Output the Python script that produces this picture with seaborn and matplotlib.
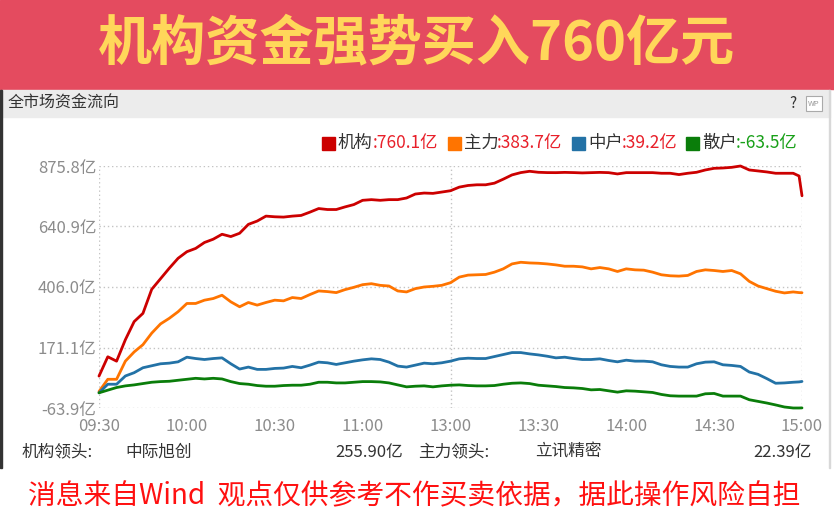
import numpy as np
import pandas as pd
import matplotlib
matplotlib.use("Agg")
import matplotlib.pyplot as plt
from matplotlib.patches import Rectangle
import seaborn as sns

# trading minutes after 09:30 (lunch break removed), sampled every 3 minutes
minutes = list(range(0, 240, 3)) + [239, 240]

jigou = [60.0, 135.0, 118.0, 201.2, 271.6, 303.6, 397.0, 438.0, 479.0, 517.4,
         543.0, 555.8, 578.8, 591.6, 610.8, 601.8, 614.6, 649.2, 662.0, 681.2,
         678.6, 677.4, 681.2, 683.8, 696.6, 710.6, 706.8, 706.8, 717.0, 726.0,
         742.6, 745.2, 742.6, 745.2, 745.2, 751.6, 767.0, 770.8, 769.5, 774.6,
         779.8, 793.8, 800.2, 802.8, 802.8, 809.2, 824.6, 841.2, 850.2, 855.3,
         851.4, 850.2, 850.0, 851.0, 850.2, 849.0, 850.0, 851.0, 850.0, 845.0,
         850.0, 850.0, 850.0, 850.0, 847.6, 847.6, 842.5, 847.6, 851.4, 860.4,
         866.8, 868.1, 870.6, 875.8, 860.4, 856.6, 852.7, 847.6, 847.6, 847.6,
         837.0, 760.1]
zhuli = [0.0, 47.6, 47.6, 118.0, 153.8, 182.0, 226.8, 262.6, 284.4, 310.0,
         342.0, 342.0, 354.8, 361.2, 374.0, 348.4, 329.2, 345.8, 335.6, 345.8,
         354.8, 352.2, 365.0, 361.2, 376.6, 390.6, 388.1, 384.2, 395.8, 404.7,
         415.0, 418.8, 412.4, 409.8, 390.6, 386.8, 399.6, 406.0, 408.6, 412.4,
         422.6, 444.4, 452.1, 453.4, 454.6, 463.6, 476.4, 495.6, 502.0, 499.4,
         498.2, 495.6, 491.8, 486.6, 486.6, 484.1, 476.4, 481.5, 476.4, 466.2,
         476.4, 472.6, 471.3, 463.6, 453.4, 449.5, 448.2, 450.8, 466.2, 472.6,
         470.0, 466.2, 470.0, 457.2, 427.8, 409.8, 399.6, 389.4, 382.9, 386.8,
         384.2, 383.7]
zhonghu = [-5.0, 28.4, 28.4, 60.4, 73.2, 92.4, 100.1, 107.8, 110.3, 115.4,
           133.4, 128.2, 124.4, 128.2, 130.8, 107.8, 87.3, 95.0, 86.0, 86.0,
           89.8, 91.1, 97.5, 92.4, 102.6, 114.2, 111.6, 105.2, 111.6, 118.0,
           123.1, 127.0, 124.4, 114.2, 98.8, 95.0, 102.6, 110.3, 107.8, 111.6,
           118.0, 127.0, 129.5, 128.2, 128.2, 135.9, 143.6, 151.3, 151.3, 146.2,
           142.3, 137.2, 130.8, 133.4, 128.2, 124.4, 124.4, 127.0, 120.6, 115.4,
           121.8, 118.0, 118.0, 115.4, 103.9, 97.5, 95.0, 95.0, 107.8, 114.2,
           115.4, 103.9, 101.4, 97.5, 75.8, 66.8, 50.2, 32.2, 33.5, 36.1,
           37.4, 39.2]
sanhu = [-5.0, 5.4, 15.6, 22.0, 25.8, 31.0, 36.1, 38.6, 39.9, 43.8,
         47.6, 51.4, 48.9, 51.4, 48.9, 38.6, 31.0, 28.4, 23.3, 20.7,
         20.7, 23.3, 24.6, 24.6, 28.4, 36.1, 36.1, 33.5, 33.5, 36.1,
         38.6, 38.6, 37.4, 33.5, 25.8, 18.2, 20.7, 22.0, 18.2, 22.0,
         24.6, 25.8, 23.3, 22.0, 22.0, 23.3, 28.4, 32.2, 33.5, 31.0,
         24.6, 22.0, 19.4, 15.6, 14.3, 11.8, 6.6, 7.9, 2.8, -2.3,
         2.8, 1.5, -1.0, -3.6, -11.3, -16.4, -17.7, -17.7, -17.7, -8.7,
         -7.4, -17.7, -17.7, -17.7, -31.8, -38.2, -44.6, -52.0, -60.0, -63.9,
         -63.9, -63.5]

series_names = ["机构", "主力", "中户", "散户"]
series_colors = ["#CC0000", "#FF7400", "#2372A6", "#0A7D0A"]
final_labels = [":760.1亿", ":383.7亿", ":39.2亿", ":-63.5亿"]
value_colors = ["#E8202A", "#E8202A", "#E8202A", "#18A018"]

ytick_vals = [-63.9, 171.0, 406.0, 640.9, 875.8]
ytick_labels = ["-63.9亿", "171.1亿", "406.0亿", "640.9亿", "875.8亿"]
xtick_vals = [0, 30, 60, 90, 120, 150, 180, 210, 240]
xtick_labels = ["09:30", "10:00", "10:30", "11:00", "13:00", "13:30", "14:00", "14:30", "15:00"]

df = pd.DataFrame({
    "minute": minutes * 4,
    "value": jigou + zhuli + zhonghu + sanhu,
    "series": sum([[n] * len(minutes) for n in series_names], []),
})

sns.set_style("white")
plt.rcParams["font.family"] = ["Noto Sans CJK SC", "DejaVu Sans"]

W, H = 834, 522
fig = plt.figure(figsize=(W / 100, H / 100), dpi=100)

def fx(x):
    return x / W

def fy(y):
    return 1 - y / H

def box(x0, y0, x1, y1, **kw):
    # rectangle given in picture pixels (top-left origin)
    fig.patches.append(Rectangle((fx(x0), fy(y1)), (x1 - x0) / W, (y1 - y0) / H,
                                 transform=fig.transFigure, **kw))

# red title banner
box(0, 0, 834, 89, color="#E44B5F", zorder=0)
fig.text(fx(417), fy(45), "机构资金强势买入760亿元", ha="center", va="center",
         fontsize=39, fontweight="heavy", color="#FFD75A")

# panel header and frame
box(2, 90, 830, 117, color="#ECECEC", zorder=0)
box(0, 90, 1.5, 468, color="#333333", zorder=1)
box(829, 90, 830, 468, color="#D8D8D8", zorder=1)
fig.text(fx(8), fy(103), "全市场资金流向", ha="left", va="center", fontsize=11.5, color="#333333")
fig.text(fx(793), fy(103), "?", ha="center", va="center", fontsize=11, color="#333333")
box(806, 96, 822, 111, facecolor="white", edgecolor="#AAAAAA", lw=0.8, zorder=1)
fig.text(fx(814), fy(104), "WP", ha="center", va="center", fontsize=5.5, color="#999999")

# legend row
sq_x = [322, 448, 572, 686]
name_x = [338, 464, 588, 702]
val_x = [373, 497, 622, 736]
for i in range(4):
    box(sq_x[i], 137, sq_x[i] + 13, 150, color=series_colors[i], zorder=2)
    fig.text(fx(name_x[i]), fy(143), series_names[i], ha="left", va="center",
             fontsize=12.5, color="#333333")
    fig.text(fx(val_x[i]), fy(143), final_labels[i], ha="left", va="center",
             fontsize=12.5, color=value_colors[i])

# main chart
ax = fig.add_axes([fx(99), fy(408), fx(802 - 99), 242 / H])
sns.lineplot(data=df, x="minute", y="value", hue="series", hue_order=series_names,
             palette=series_colors, linewidth=2.0, legend=False, ax=ax)
for ln in ax.lines:
    ln.set_clip_on(False)
ax.set_xlim(0, 240)
ax.set_ylim(-63.9, 875.8)
ax.set_yticks(ytick_vals)
ax.set_yticklabels(ytick_labels)
ax.set_xticks(xtick_vals)
ax.set_xticklabels(xtick_labels)
ax.set_xlabel("")
ax.set_ylabel("")
for s in ax.spines.values():
    s.set_visible(False)
for v in ytick_vals:
    ax.axhline(v, color="#C4C4C4", lw=1.0, ls=(0, (1, 2)), zorder=0)
for v in [0, 120, 240]:
    ax.axvline(v, color="#C4C4C4", lw=1.0, ls=(0, (1, 2)), zorder=0)
ax.tick_params(axis="y", length=0, pad=2, labelsize=12, labelcolor="#8C8C8C")
ax.tick_params(axis="x", length=4, width=0.8, color="#C4C4C4", pad=3,
               labelsize=12, labelcolor="#8C8C8C")

# leader row
fig.text(fx(22), fy(452), "机构领头:", ha="left", va="center", fontsize=12, color="#333333")
fig.text(fx(125), fy(452), "中际旭创", ha="left", va="center", fontsize=12, color="#333333")
fig.text(fx(403), fy(452), "255.90亿", ha="right", va="center", fontsize=12, color="#333333")
fig.text(fx(418), fy(452), "主力领头:", ha="left", va="center", fontsize=12, color="#333333")
fig.text(fx(535), fy(452), "立讯精密", ha="left", va="center", fontsize=12, color="#333333")
fig.text(fx(812), fy(452), "22.39亿", ha="right", va="center", fontsize=12, color="#333333")

# disclaimer
fig.text(fx(414), fy(496), "消息来自Wind  观点仅供参考不作买卖依据，据此操作风险自担",
         ha="center", va="center", fontsize=20, color="#FF1010")

fig.savefig("out.png", dpi=100)
